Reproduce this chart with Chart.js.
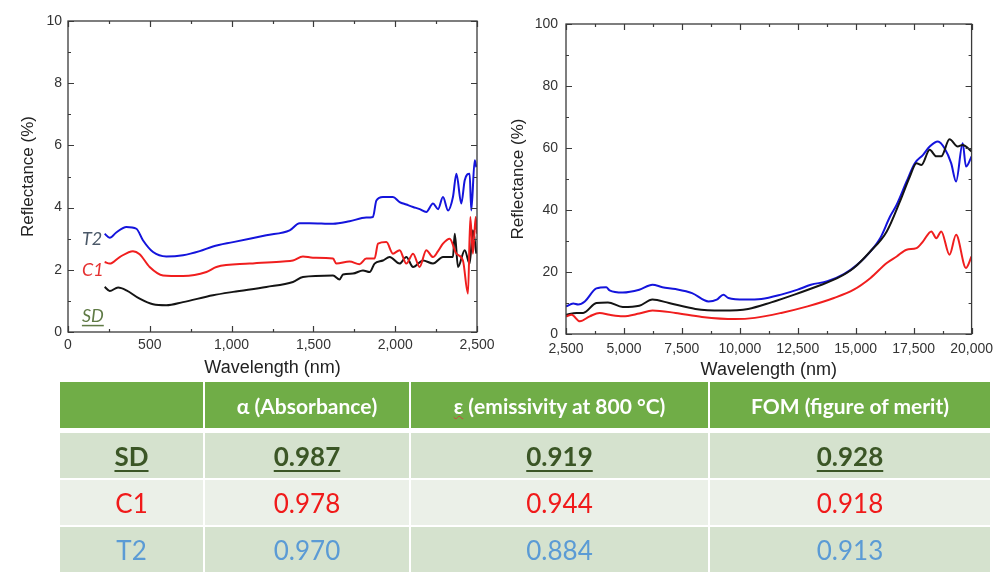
<!DOCTYPE html>
<html>
<head>
<meta charset="utf-8">
<script src="https://cdn.jsdelivr.net/npm/chart.js@4.4.1/dist/chart.umd.min.js"></script>
<style>
  html, body { margin: 0; padding: 0; background: #fff; }
  body { width: 1000px; height: 586px; position: relative; overflow: hidden; }
  .plot { position: absolute; top: 0; height: 385px; }
  #visBox { left: 0; width: 500px; }
  #irBox { left: 490px; width: 510px; }
  table {
    position: absolute; left: 60px; top: 382px;
    border-collapse: separate; border-spacing: 0;
    table-layout: fixed;
    font-family: "Lato", "Open Sans", sans-serif;
  }
  td, th { padding: 0; text-align: center; border-right: 2px solid #fff; border-bottom: 2px solid #fff; }
  td:last-child, th:last-child { border-right: none; }
  th { background: #70ad47; color: #fff; font-weight: bold; font-size: 21px; height: 46px; border-bottom: 5px solid #fff; }
  td { font-size: 26px; height: 45px; }
  tr.odd td { background: #d5e2ce; }
  tr.even td { background: #ebf0e8; }
  .sd { color: #3b5626; font-weight: bold; text-decoration: underline; text-underline-offset: 4px; }
  .c1 { color: #f01a1a; }
  .t2 { color: #5b9bd5; }
  .eps { text-decoration: underline wavy #d04040; text-decoration-thickness: 1px; }
</style>
</head>
<body>
<div class="plot" id="visBox"><canvas id="visChart"></canvas></div>
<div class="plot" id="irBox"><canvas id="irChart"></canvas></div>
<table id="meritTable"></table>

<script>
/* =========================
   DATA
========================= */
// left panel, 200-2500 nm
const t2VisX = [224, 255, 295, 357, 418, 458, 520, 601, 703, 805, 886, 1009, 1212, 1355, 1416, 1477, 1620, 1721, 1823, 1864, 1885, 1925, 1986, 2027, 2068, 2109, 2150, 2190, 2231, 2262, 2292, 2323, 2353, 2374, 2404, 2425, 2455, 2465, 2486, 2496];
const t2VisY = [3.16, 3.03, 3.2, 3.38, 3.32, 2.95, 2.57, 2.43, 2.47, 2.6, 2.75, 2.89, 3.11, 3.27, 3.5, 3.5, 3.48, 3.56, 3.68, 3.7, 4.23, 4.34, 4.34, 4.18, 4.1, 4.02, 3.95, 3.86, 4.13, 3.95, 4.34, 3.91, 4.34, 5.09, 4.13, 4.88, 5.09, 3.91, 5.52, 5.3];

const c1VisX = [224, 255, 316, 397, 438, 499, 581, 703, 846, 907, 1110, 1314, 1375, 1436, 1497, 1620, 1640, 1721, 1782, 1823, 1874, 1895, 1946, 1986, 2027, 2068, 2109, 2149, 2190, 2231, 2262, 2292, 2333, 2374, 2414, 2445, 2459, 2475, 2492, 2500];
const c1VisY = [2.25, 2.2, 2.41, 2.6, 2.5, 2.09, 1.82, 1.8, 1.93, 2.09, 2.2, 2.27, 2.3, 2.43, 2.39, 2.36, 2.2, 2.27, 2.18, 2.36, 2.36, 2.84, 2.89, 2.52, 2.63, 2.2, 2.52, 2.09, 2.63, 2.41, 2.6, 2.84, 3.0, 2.52, 2.3, 1.23, 3.7, 2.52, 3.7, 3.16];

const sdVisX = [224, 255, 306, 357, 438, 520, 601, 703, 886, 1009, 1212, 1375, 1436, 1620, 1660, 1681, 1742, 1803, 1844, 1874, 1925, 1966, 2027, 2068, 2109, 2170, 2231, 2292, 2353, 2364, 2384, 2425, 2455, 2475, 2496];
const sdVisY = [1.45, 1.32, 1.43, 1.34, 1.07, 0.89, 0.86, 0.96, 1.18, 1.29, 1.45, 1.61, 1.77, 1.82, 1.69, 1.85, 1.88, 1.98, 1.93, 2.2, 2.3, 2.41, 2.2, 2.41, 2.09, 2.3, 2.2, 2.41, 2.41, 3.16, 2.09, 2.63, 2.2, 3.27, 2.52];

// right panel, 2500-20000 nm
const t2IrX = [2500, 2813, 3027, 3312, 3810, 4237, 4380, 4949, 5661, 6231, 6658, 7227, 7939, 8651, 9007, 9292, 9506, 10218, 10930, 11784, 12496, 13065, 13777, 14489, 15059, 15628, 16055, 16483, 16768, 17195, 17551, 17907, 18192, 18548, 18833, 19118, 19331, 19616, 19758, 20000];
const t2IrY = [8.9, 9.8, 9.5, 10.5, 14.7, 15.1, 14.1, 13.4, 14.3, 15.9, 15.1, 14.5, 13.2, 10.5, 11.1, 12.7, 11.6, 11.1, 11.3, 12.7, 14.3, 15.9, 17.0, 19.3, 22.3, 26.6, 30.9, 37.9, 41.7, 49.2, 55.1, 57.8, 60.5, 62.1, 59.9, 55.1, 49.2, 61.5, 54.0, 57.3];

const sdIrX = [2500, 2956, 3240, 3810, 4309, 4949, 5661, 6231, 6943, 8082, 9221, 10360, 11357, 12354, 13350, 14204, 14916, 15628, 16340, 16910, 17337, 17622, 17836, 18192, 18477, 18691, 19047, 19402, 19616, 20000];
const sdIrY = [6.2, 6.8, 6.8, 10.0, 10.2, 8.7, 9.1, 11.1, 10.0, 8.1, 7.6, 8.1, 10.2, 12.7, 15.4, 18.0, 21.3, 26.6, 33.1, 42.8, 50.8, 55.1, 54.5, 59.4, 57.3, 57.3, 62.8, 60.5, 61.0, 58.9];

const c1IrX = [2500, 2742, 3098, 3525, 3952, 4380, 4949, 5661, 6231, 7227, 8367, 9791, 10645, 11784, 12923, 14062, 14916, 15628, 16340, 16768, 17195, 17622, 17907, 18263, 18477, 18691, 19047, 19331, 19758, 20000];
const c1IrY = [5.7, 6.2, 4.1, 5.7, 6.8, 6.2, 5.7, 6.6, 7.6, 6.8, 5.5, 4.8, 5.2, 6.8, 8.9, 11.6, 14.3, 18.0, 22.9, 25.0, 27.2, 27.7, 29.9, 33.1, 30.9, 33.1, 25.6, 32.0, 21.3, 25.0];

// table
const samples = ["SD", "C1", "T2"];
const columns = ["α (Absorbance)", "ε (emissivity at 800 °C)", "FOM (figure of merit)"];
const absorbance = [0.987, 0.978, 0.970];
const emissivity = [0.919, 0.944, 0.884];
const fom = [0.928, 0.918, 0.913];

/* =========================
   HELPERS
========================= */
const zip = (xs, ys) => xs.map((x, i) => ({ x, y: ys[i] }));
const fmt = v => Number(v).toLocaleString("en-US");

const BLUE = "#1414dc", RED = "#f01e1e", BLACK = "#141414";

function line(label, xs, ys, color) {
  return {
    label,
    data: zip(xs, ys),
    borderColor: color,
    borderWidth: 2,
    pointRadius: 0,
    cubicInterpolationMode: "monotone",
    fill: false
  };
}

// inward ticks on all four sides + frame box, like the Origin plots
const frameTicks = {
  id: "frameTicks",
  afterDatasetsDraw(chart, args, o) {
    const { ctx, chartArea: a, scales: { x, y } } = chart;
    ctx.save();
    ctx.strokeStyle = "#3a3a3a";
    ctx.lineWidth = 1.3;
    ctx.strokeRect(a.left, a.top, a.width, a.height);
    ctx.lineWidth = 1.2;
    const isMajor = (v, min, step) => Math.abs((v - min) / step - Math.round((v - min) / step)) < 1e-6;
    for (let v = x.min; v <= x.max + 1e-9; v += o.xMinor) {
      const px = Math.round(x.getPixelForValue(v)) + 0.5;
      const len = isMajor(v, x.min, o.xMajor) ? 6 : 3;
      ctx.beginPath();
      ctx.moveTo(px, a.bottom); ctx.lineTo(px, a.bottom - len);
      ctx.moveTo(px, a.top); ctx.lineTo(px, a.top + len);
      ctx.stroke();
    }
    for (let v = y.min; v <= y.max + 1e-9; v += o.yMinor) {
      const py = Math.round(y.getPixelForValue(v)) + 0.5;
      const len = isMajor(v, y.min, o.yMajor) ? 6 : 3;
      ctx.beginPath();
      ctx.moveTo(a.left, py); ctx.lineTo(a.left + len, py);
      ctx.moveTo(a.right, py); ctx.lineTo(a.right - len, py);
      ctx.stroke();
    }
    ctx.restore();
  }
};

// sample tags written inside the left plot
const sampleTags = {
  id: "sampleTags",
  afterDatasetsDraw(chart, args, o) {
    if (!o.tags) return;
    const { ctx, scales: { x, y } } = chart;
    ctx.save();
    ctx.font = "italic 18px Lato, 'Open Sans', sans-serif";
    ctx.textAlign = "left";
    ctx.textBaseline = "middle";
    o.tags.forEach(t => {
      const px = x.getPixelForValue(t.at[0]);
      const py = y.getPixelForValue(t.at[1]);
      ctx.fillStyle = t.color;
      ctx.fillText(t.text, px, py);
      if (t.underline) {
        const w = ctx.measureText(t.text).width;
        ctx.fillRect(px, py + 9, w, 1.5);
      }
    });
    ctx.restore();
  }
};

function axes(cfg) {
  const tickFont = { family: "'Liberation Sans', Arial, sans-serif", size: 14 };
  return {
    x: {
      type: "linear", min: cfg.xMin, max: cfg.xMax,
      grid: { display: false, drawTicks: false },
      border: { display: false },
      ticks: { stepSize: cfg.xStep, autoSkip: false, maxRotation: 0, padding: cfg.xPad, color: "#333", font: tickFont, callback: v => fmt(v) },
      title: { display: true, text: "Wavelength (nm)", color: "#222", font: { family: "'Liberation Sans', Arial, sans-serif", size: 18 }, padding: { top: 0, bottom: cfg.xTitlePad } },
      afterFit: s => { s.height = cfg.xHeight; }
    },
    y: {
      type: "linear", min: cfg.yMin, max: cfg.yMax,
      grid: { display: false, drawTicks: false },
      border: { display: false },
      ticks: { stepSize: cfg.yStep, autoSkip: false, padding: cfg.yPad, color: "#333", font: tickFont },
      title: { display: true, text: "Reflectance (%)", color: "#222", font: { family: "'Liberation Sans', Arial, sans-serif", size: 17 }, padding: { top: cfg.yTitlePad, bottom: 0 } },
      afterFit: s => { s.width = cfg.yWidth; }
    }
  };
}

/* =========================
   LEFT PANEL
========================= */
new Chart(document.getElementById("visChart"), {
  type: "line",
  data: {
    datasets: [
      line("T2", t2VisX, t2VisY, BLUE),
      line("C1", c1VisX, c1VisY, RED),
      line("SD", sdVisX, sdVisY, BLACK)
    ]
  },
  options: {
    responsive: true,
    maintainAspectRatio: false,
    animation: false,
    layout: { padding: { top: 21, right: 23, left: 0, bottom: 0 } },
    scales: axes({ xMin: 0, xMax: 2500, xStep: 500, yMin: 0, yMax: 10, yStep: 2, xPad: 5, yPad: 6, xHeight: 53, yWidth: 68, xTitlePad: 6, yTitlePad: 18 }),
    plugins: {
      legend: { display: false },
      tooltip: { enabled: false },
      frameTicks: { xMajor: 500, xMinor: 250, yMajor: 2, yMinor: 1 },
      sampleTags: {
        tags: [
          { text: "T2", at: [85, 3.0], color: "#4a5868" },
          { text: "C1", at: [85, 2.0], color: "#e53030" },
          { text: "SD", at: [85, 0.52], color: "#5f7a45", underline: true }
        ]
      }
    }
  },
  plugins: [frameTicks, sampleTags]
});

/* =========================
   RIGHT PANEL
========================= */
new Chart(document.getElementById("irChart"), {
  type: "line",
  data: {
    datasets: [
      line("C1", c1IrX, c1IrY, RED),
      line("SD", sdIrX, sdIrY, BLACK),
      line("T2", t2IrX, t2IrY, BLUE)
    ]
  },
  options: {
    responsive: true,
    maintainAspectRatio: false,
    animation: false,
    layout: { padding: { top: 24, right: 24, left: 0, bottom: 0 } },
    scales: axes({ xMin: 2500, xMax: 20000, xStep: 2500, yMin: 0, yMax: 100, yStep: 20, xPad: 7, yPad: 8, xHeight: 51, yWidth: 76, xTitlePad: 4, yTitlePad: 18 }),
    plugins: {
      legend: { display: false },
      tooltip: { enabled: false },
      frameTicks: { xMajor: 2500, xMinor: 1250, yMajor: 20, yMinor: 10 }
    }
  },
  plugins: [frameTicks]
});

/* =========================
   TABLE
========================= */
function renderTable() {
  const table = document.getElementById("meritTable");
  const widths = [145, 206, 299, 280];
  const cls = ["sd", "c1", "t2"];

  table.style.width = widths.reduce((a, b) => a + b, 0) + "px";

  let html = "<colgroup>";
  widths.forEach(w => { html += `<col style="width:${w}px">`; });
  html += "</colgroup><tr><th></th>";
  columns.forEach((c, i) => {
    const text = i === 1 ? `<span class="eps">ε</span>${c.slice(1)}` : c;
    html += `<th>${text}</th>`;
  });
  html += "</tr>";

  samples.forEach((s, i) => {
    html += `<tr class="${i === 1 ? "even" : "odd"}">`;
    html += `<td class="${cls[i]}">${s}</td>`;
    [absorbance[i], emissivity[i], fom[i]].forEach(v => {
      html += `<td class="${cls[i]}">${v.toFixed(3)}</td>`;
    });
    html += "</tr>";
  });

  table.innerHTML = html;
}

renderTable();
</script>
</body>
</html>
